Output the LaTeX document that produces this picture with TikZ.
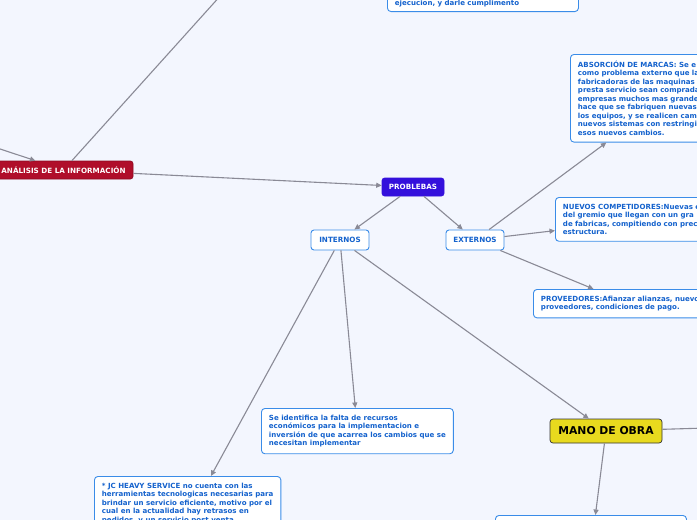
\documentclass[tikz,border=0pt]{standalone}
\usepackage{fontspec}
\setmainfont{DejaVu Sans}
\usetikzlibrary{arrows.meta}
\definecolor{fondo}{RGB}{243,246,254}
\definecolor{azul}{RGB}{58,140,232}
\definecolor{azultxt}{RGB}{20,98,205}
\definecolor{rojo}{RGB}{176,14,42}
\definecolor{morado}{RGB}{52,16,220}
\definecolor{amarillo}{RGB}{232,218,30}
\definecolor{gris}{RGB}{138,138,150}
\tikzset{
  hoja/.style ={rectangle, rounded corners=3.5pt, draw=azul, fill=white, line width=0.9pt,
                text=azultxt, font=\fontsize{7.05}{8.5}\selectfont\bfseries, align=left,
                anchor=north west, inner xsep=7.5pt, inner ysep=6.5pt},
  rama/.style ={rectangle, rounded corners=3pt, draw=azul, fill=white, line width=0.9pt,
                text=azultxt, font=\fontsize{7.2}{8.5}\selectfont\bfseries,
                minimum width=58pt, minimum height=20pt},
  tema/.style ={rectangle, rounded corners=2.5pt, text=white, line width=0.6pt,
                font=\fontsize{7.2}{8.5}\selectfont\bfseries, minimum height=18pt},
  mano/.style ={rectangle, rounded corners=3pt, draw=black!80, fill=amarillo, line width=0.7pt,
                font=\fontsize{10.8}{12}\selectfont\bfseries, minimum width=112pt, minimum height=24pt},
  ar/.style   ={-{Triangle[length=5.5pt,width=5pt]}, draw=gris, line width=1.1pt},
  ln/.style   ={draw=gris, line width=1.1pt},
}

\begin{document}
\begin{tikzpicture}[x=1pt,y=-1pt]

\useasboundingbox (0,0) rectangle (697,520);
\clip (0,0) rectangle (697,520);
\fill[fondo] (0,0) rectangle (697,520);

\node[hoja, text width=176pt, anchor=south west, inner ysep=5pt] (nota) at (387,12) {ejecucion, y darle cumplimento};

\node[tema, fill=rojo, draw=rojo!80!black, minimum width=139pt] (analisis) at (63.5,170) {ANÁLISIS DE LA INFORMACIÓN};
\node[tema, fill=morado, draw=morado, minimum width=62pt] (problemas) at (413,187) {PROBLEBAS};

\node[rama] (internos) at (340,240) {INTERNOS};
\node[rama] (externos) at (475,240) {EXTERNOS};

\node[hoja, text width=176pt] (absorcion) at (570,54) {ABSORCIÓN DE MARCAS: Se e\\como problema externo que la\\fabricadoras de las maquinas a\\presta servicio sean comprada\\empresas muchos mas grande\\hace que se fabriquen nuevas\\los equipos, y se realicen  cam\\nuevos sistemas  con restringi\\esos nuevos cambios.};
\node[hoja, text width=176pt] (competidores) at (555,197) {NUEVOS COMPETIDORES:Nuevas e\\del gremio que llegan con un  gra\\de fabricas, compitiendo con prec\\estructura.};
\node[hoja, text width=176pt] (proveedores) at (533,289) {PROVEEDORES:Afianzar alianzas, nuevo\\proveedores, condiciones de pago.};

\node[hoja] (recursos) at (261,408) {Se identifica la falta de recursos\\económicos para la implementacion e\\inversión de que acarrea los cambios que se\\necesitan implementar};
\node[hoja, text depth=32pt] (jcheavy) at (94,476) {* JC HEAVY SERVICE no cuenta con las\\herramientas tecnologicas necesarias para\\brindar un servicio eficiente, motivo por el\\cual en la actualidad hay retrasos en\\pedidos, y un servicio post venta};

\node[mano] (manoobra) at (606,431) {MANO DE OBRA};
\node[hoja, minimum width=191pt, minimum height=70pt] (manobox) at (495,515) {};

\coordinate (arriba) at (231,-16);
\coordinate (izq) at (-30,139);
\coordinate (derecha) at (740,427);

\draw[ln] (analisis) -- (arriba);
\draw[ar] (izq) -- (analisis);
\draw[ar] (analisis) -- (problemas);
\draw[ar] (problemas) -- (internos);
\draw[ar] (problemas) -- (externos);
\draw[ar] (externos) -- (absorcion);
\draw[ar] (externos) -- (competidores);
\draw[ar] (externos) -- (proveedores);
\draw[ar] (internos) -- (recursos);
\draw[ar] (internos) -- (jcheavy);
\draw[ar] (internos) -- (manoobra);
\draw[ln] (manoobra) -- (derecha);
\draw[ar] (manoobra) -- (manobox);

\end{tikzpicture}
\end{document}
